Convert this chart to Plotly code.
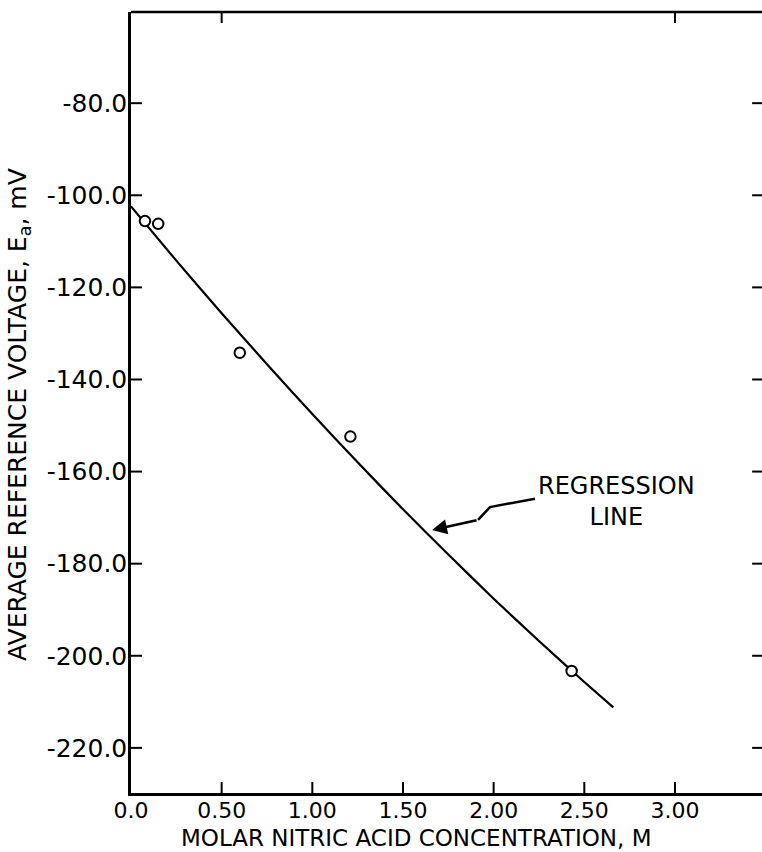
import plotly.graph_objects as go

# Measured reference voltage vs. nitric acid molarity
conc_m = [0.077, 0.15, 0.60, 1.21, 2.43]
voltage_mv = [-105.6, -106.2, -134.2, -152.4, -203.3]

# Regression curve, read along its length
reg_conc = [0.0, 0.25, 0.5, 0.75, 1.0, 1.25, 1.5, 1.75, 2.0, 2.25, 2.5, 2.66]
reg_volt = [-102.4, -114.2, -125.6, -136.7, -147.5, -158.0, -168.2,
            -178.0, -187.6, -196.8, -205.7, -211.2]

x_ticks = [0.0, 0.5, 1.0, 1.5, 2.0, 2.5, 3.0]
x_tick_text = ["0.0", "0.50", "1.00", "1.50", "2.00", "2.50", "3.00"]
y_ticks = [-80, -100, -120, -140, -160, -180, -200, -220]
y_tick_text = ["-80.0", "-100.0", "-120.0", "-140.0", "-160.0", "-180.0",
               "-200.0", "-220.0"]
top_ticks = [0.5, 3.0]

X_RANGE = [0, 3.48]
Y_RANGE = [-229.8, -60.2]
FONT = "DejaVu Sans"
INK = "black"
PLOT_W, PLOT_H = 631, 781          # plot area in px
TICK_LEN = 11
TX = TICK_LEN / PLOT_W             # tick length in paper units, horizontal
TY = TICK_LEN / PLOT_H             # tick length in paper units, vertical

fig = go.Figure()

fig.add_trace(go.Scatter(
    x=reg_conc, y=reg_volt, mode="lines",
    line=dict(color=INK, width=2.2, shape="spline", smoothing=0.5),
    hoverinfo="skip", showlegend=False,
))
fig.add_trace(go.Scatter(
    x=conc_m, y=voltage_mv, mode="markers",
    marker=dict(symbol="circle", size=10.5, color="white",
                line=dict(color=INK, width=2)),
    showlegend=False,
))


def tick(**kw):
    fig.add_shape(type="line", line=dict(color=INK, width=2), **kw)


# top frame line
fig.add_shape(
    type="line", xref="paper", yref="paper", x0=0, x1=1, y0=1, y1=1,
    line=dict(color=INK, width=2.5),
)
# inward ticks: bottom and top frame
for tv in x_ticks[1:]:
    tick(xref="x", yref="paper", x0=tv, x1=tv, y0=0, y1=TY)
for tv in top_ticks:
    tick(xref="x", yref="paper", x0=tv, x1=tv, y0=1, y1=1 - TY)
# inward ticks: left axis and the open right edge
for tv in y_ticks:
    tick(xref="paper", yref="y", x0=0, x1=TX, y0=tv, y1=tv)
    tick(xref="paper", yref="y", x0=1, x1=1 - TX * 0.9, y0=tv, y1=tv)

# zig-zag leader pointing at the curve
fig.add_shape(
    type="path", xref="x", yref="y",
    path="M 2.228,-165.9 L 1.980,-167.7 L 1.914,-170.5",
    line=dict(color=INK, width=2.5),
)
fig.add_annotation(
    x=1.660, y=-172.7, ax=1.914, ay=-170.5, xref="x", yref="y",
    axref="x", ayref="y", text="", showarrow=True,
    arrowhead=2, arrowsize=1.2, arrowwidth=2.5, arrowcolor=INK,
)
fig.add_annotation(
    x=2.675, y=-166.6, xref="x", yref="y",
    text="REGRESSION<br>LINE", showarrow=False,
    font=dict(family=FONT, size=24, color=INK),
    align="center", xanchor="center", yanchor="middle",
)

# axis titles
fig.add_annotation(
    x=0.4517, y=-0.0756, xref="paper", yref="paper",
    text="MOLAR NITRIC ACID CONCENTRATION, M", showarrow=False,
    font=dict(family=FONT, size=23, color=INK), borderpad=0,
    xanchor="center", yanchor="bottom",
)
fig.add_annotation(
    x=-0.1775, y=0.4853, xref="paper", yref="paper",
    text="AVERAGE REFERENCE VOLTAGE, E<sub>a</sub>, mV", showarrow=False,
    textangle=-90,
    font=dict(family=FONT, size=25, color=INK),
    xanchor="center", yanchor="middle",
)

axis_common = dict(
    showgrid=False, zeroline=False, ticks="", linecolor=INK, linewidth=2.5,
    showline=True, mirror=False,
)

fig.update_layout(
    template="none",
    width=762, height=852,
    margin=dict(l=131, r=0, t=12, b=59),
    paper_bgcolor="white", plot_bgcolor="white",
    xaxis=dict(range=X_RANGE, tickmode="array", tickvals=x_ticks,
               ticktext=x_tick_text, ticklabelstandoff=-4,
               tickfont=dict(family=FONT, size=22, color=INK),
               **axis_common),
    yaxis=dict(range=Y_RANGE, tickmode="array", tickvals=y_ticks,
               ticktext=y_tick_text, ticklabelstandoff=-4,
               tickfont=dict(family=FONT, size=25, color=INK),
               **axis_common),
)

fig.write_html("out.html")
